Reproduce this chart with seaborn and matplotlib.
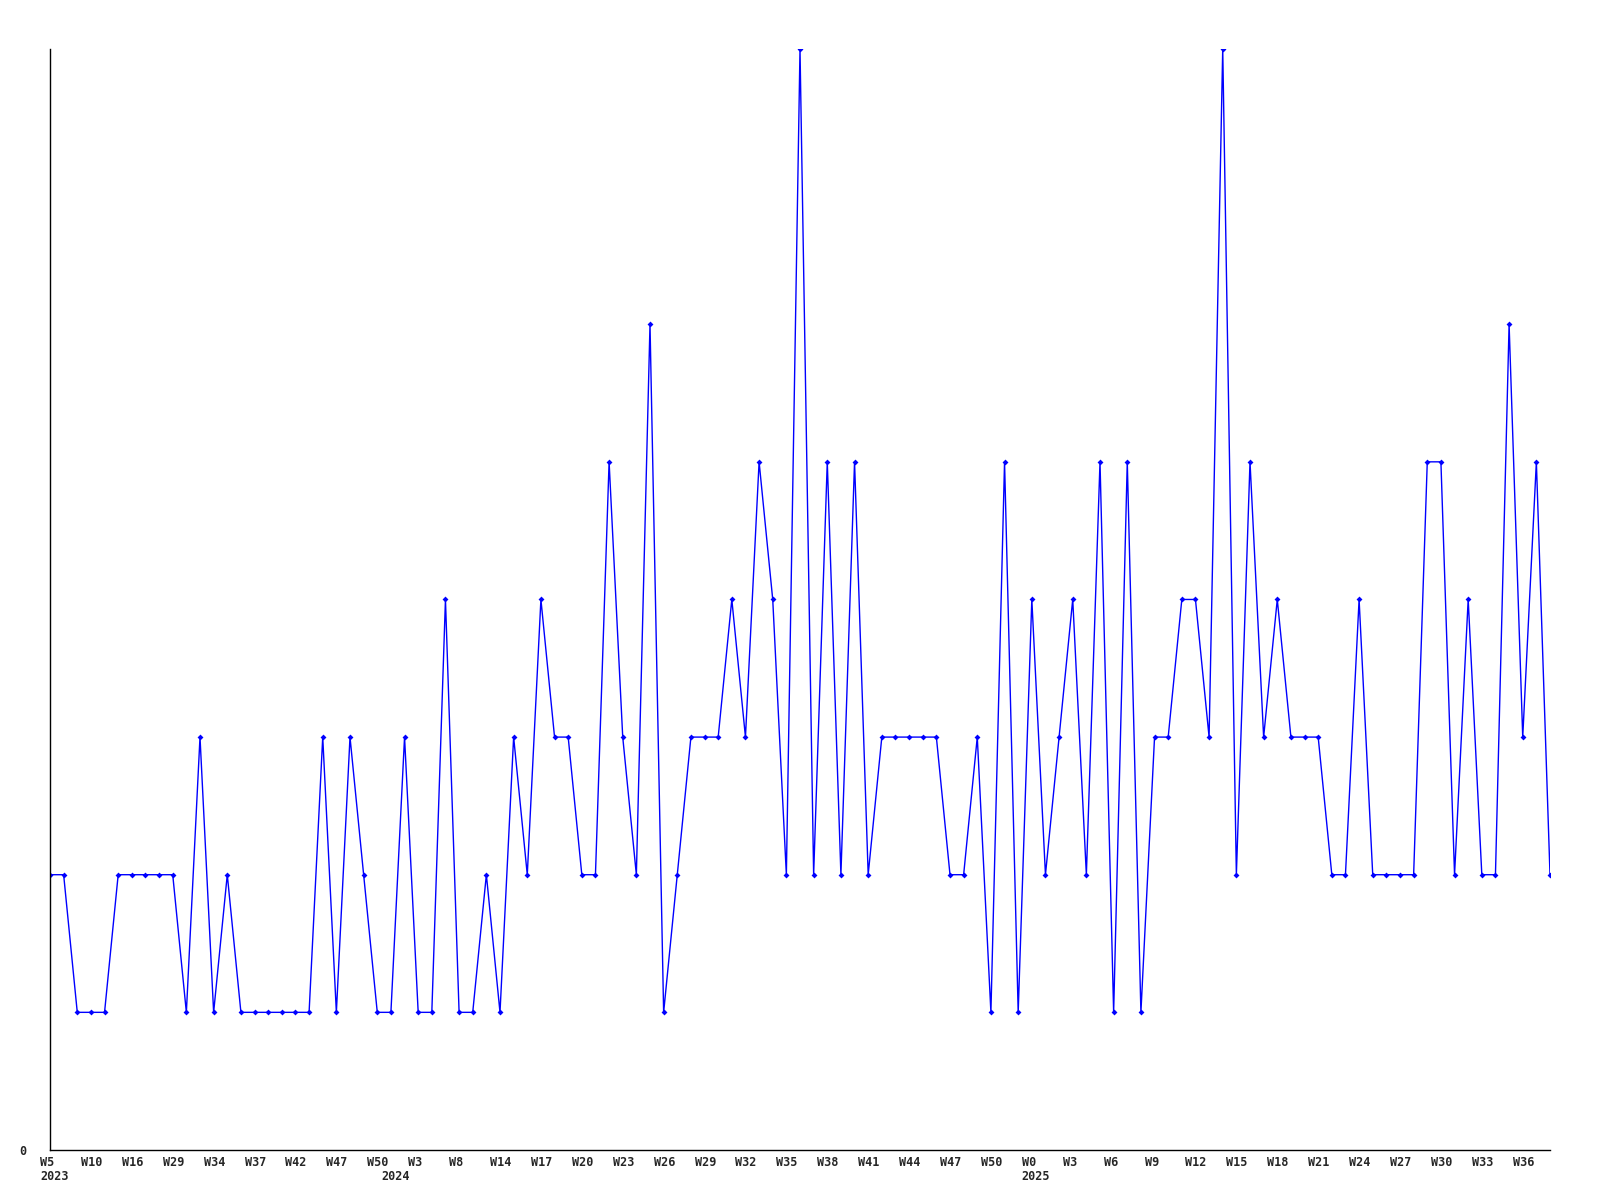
import matplotlib
matplotlib.use("Agg")
import matplotlib.pyplot as plt
import matplotlib.transforms as mtransforms
import pandas as pd
import seaborn as sns

# weekly values
values = [
    2, 2, 1, 1, 1, 2, 2, 2, 2, 2,
    1, 3, 1, 2, 1, 1, 1, 1, 1, 1,
    3, 1, 3, 2, 1, 1, 3, 1, 1, 4,
    1, 1, 2, 1, 3, 2, 4, 3, 3, 2,
    2, 5, 3, 2, 6, 1, 2, 3, 3, 3,
    4, 3, 5, 4, 2, 8, 2, 5, 2, 5,
    2, 3, 3, 3, 3, 3, 2, 2, 3, 1,
    5, 1, 4, 2, 3, 4, 2, 5, 1, 5,
    1, 3, 3, 4, 4, 3, 8, 2, 5, 3,
    4, 3, 3, 3, 2, 2, 4, 2, 2, 2,
    2, 5, 5, 2, 4, 2, 2, 6, 3, 5, 2,
]

# one label every third point
tick_weeks = [
    "W5", "W10", "W16", "W29", "W34", "W37", "W42", "W47", "W50", "W3",
    "W8", "W14", "W17", "W20", "W23", "W26", "W29", "W32", "W35", "W38",
    "W41", "W44", "W47", "W50", "W0", "W3", "W6", "W9", "W12", "W15",
    "W18", "W21", "W24", "W27", "W30", "W33", "W36",
]
# point index where each year starts
year_starts = [0, 25, 72]
year_names = ["2023", "2024", "2025"]

df = pd.DataFrame({"idx": range(len(values)), "value": values})

sns.set_style("white")
plt.rcParams["font.family"] = ["DejaVu Sans Mono"]
plt.rcParams["font.weight"] = "bold"

fig = plt.figure(figsize=(16, 12), dpi=100)
ax = fig.add_axes([0.03125, 0.0417, 0.9375, 0.9175])

sns.lineplot(data=df, x="idx", y="value", ax=ax, color="#0000ff",
             linewidth=1.0, marker="D", markersize=3, markeredgewidth=0,
             markerfacecolor="#0000ff")

ax.set_xlim(0, len(values) - 1)
ax.set_ylim(0, 8)

ax.set_xticks(range(0, len(values), 3))
ax.set_xticklabels(tick_weeks, ha="left", fontsize=8.5, fontweight="bold")
ax.set_yticks([0])
ax.set_yticklabels(["0"], fontsize=8.5, fontweight="bold")
ax.tick_params(axis="x", length=0, pad=4)
ax.tick_params(axis="y", length=0, pad=17)
ax.set_xlabel("")
ax.set_ylabel("")

# labels start a little left of their point
shift = mtransforms.ScaledTranslation(-10 / 100, 0, fig.dpi_scale_trans)
for lab in ax.get_xticklabels():
    lab.set_transform(lab.get_transform() + shift)

year_shift = mtransforms.ScaledTranslation(-10 / 100, -20.5 / 100, fig.dpi_scale_trans)
for i, name in zip(year_starts, year_names):
    ax.text(i, 0, name, transform=ax.get_xaxis_transform() + year_shift,
            ha="left", va="top", fontsize=8.5, fontweight="bold")

sns.despine(ax=ax)
for s in ["left", "bottom"]:
    ax.spines[s].set_color("black")
    ax.spines[s].set_linewidth(1.0)

fig.savefig("out.png", dpi=100)
